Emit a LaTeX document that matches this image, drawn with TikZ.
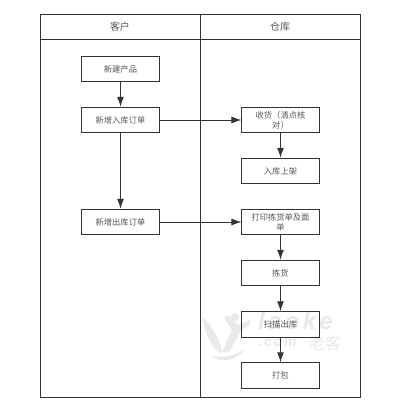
\documentclass[tikz,border=0pt]{standalone}
\usepackage{fontspec}
\usetikzlibrary{arrows.meta}
\newfontfamily\cjk{Noto Sans CJK SC}
\newfontfamily\wm{Liberation Sans}[LetterSpace=14]
\definecolor{ln}{HTML}{333333}
\definecolor{tx}{HTML}{555555}
\definecolor{wmc}{HTML}{E9E9E9}
\tikzset{
  x=1bp,y=-1bp,
  stepbox/.style={draw=ln,line width=1bp,minimum width=77bp,minimum height=25.5bp,inner sep=1bp,align=center,font=\cjk\fontsize{8.3}{10}\selectfont,text=tx},
  head/.style={font=\cjk\fontsize{10}{12}\selectfont,text=tx},
  flow/.style={draw=ln,line width=1bp,-{Latex[length=10bp,width=7bp]}},
  frame/.style={draw=ln,line width=1bp},
  wmlatin/.style={font=\wm\bfseries\itshape\fontsize{24}{24}\selectfont,text=wmc,anchor=west,inner sep=0},
  wmsmall/.style={font=\wm\bfseries\itshape\fontsize{14}{14}\selectfont,text=wmc,anchor=west,inner sep=0},
  wmcjk/.style={font=\cjk\fontsize{16}{16}\selectfont,text=wmc,anchor=west,inner sep=0}
}
\begin{document}
\begin{tikzpicture}
\useasboundingbox (0,0) rectangle (400,411);
% watermark
\fill[wmc] (202,316) .. controls (205,335) and (212,348) .. (222,354) .. controls (221,342) and (214,328) .. (202,316) -- cycle;
\fill[wmc] (222,352) -- (232,330) -- (224,318) -- (228,315) -- (238,325) -- (250,320) -- (250,324) -- (240,332) -- (229,352) -- cycle;
\fill[wmc] (211,356) .. controls (225,359) and (238,354) .. (245,349) .. controls (238,360) and (222,364) .. (211,356) -- cycle;
\fill[wmc] (235,317) circle (4);
\node[wmlatin] (wma) at (258,321) {laoke};
\node[wmsmall] (wmb) at (258,343) {.com};
\node[wmcjk] (wmc1) at (309,343) {老客};
% lanes
\draw[frame] (40,14) rectangle (360,397);
\draw[frame] (40,39.5) -- (360,39.5);
\draw[frame] (200,14) -- (200,397);
\node[head] (h1) at (120,27) {客户};
\node[head] (h2) at (280,27) {仓库};
% left
\node[stepbox] (a1) at (120.5,69) {新建产品};
\node[stepbox] (a2) at (120.5,120) {新增入库订单};
\node[stepbox] (a3) at (120.5,222) {新增出库订单};
% right
\node[stepbox] (b1) at (280.5,120) {收货（清点核\\对）};
\node[stepbox] (b2) at (280.5,171) {入库上架};
\node[stepbox] (b3) at (280.5,222) {打印拣货单及面\\单};
\node[stepbox] (b4) at (280.5,273) {拣货};
\node[stepbox] (b5) at (280.5,324.5) {扫描出库};
\node[stepbox] (b6) at (280.5,375.5) {打包};
\draw[flow] (a1) -- (a2);
\draw[flow] (a2) -- (a3);
\draw[flow] (a2) -- (b1);
\draw[flow] (a3) -- (b3);
\draw[flow] (b1) -- (b2);
\draw[flow] (b3) -- (b4);
\draw[flow] (b4) -- (b5);
\draw[flow] (b5) -- (b6);
\end{tikzpicture}
\end{document}
